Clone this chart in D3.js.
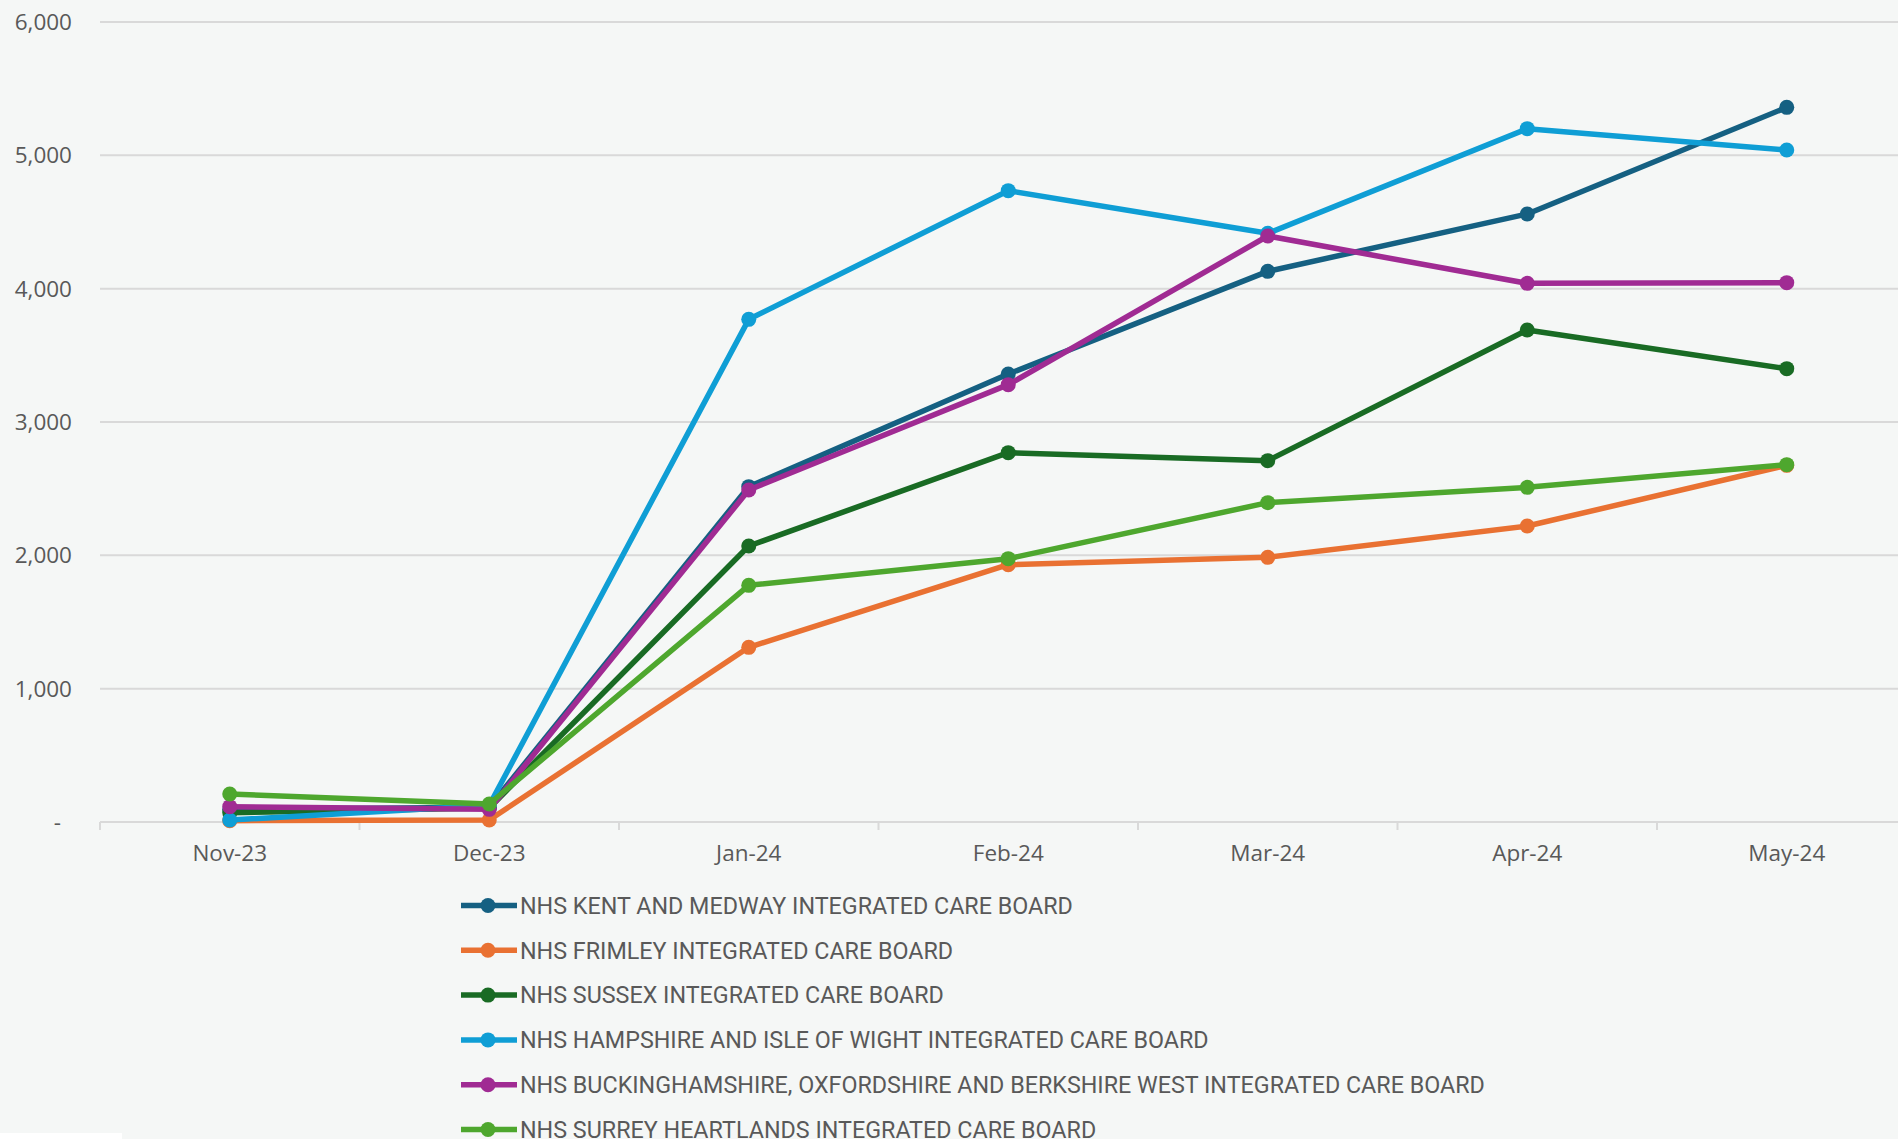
<!DOCTYPE html>
<html>
<head>
<meta charset="utf-8">
<script src="https://cdn.jsdelivr.net/npm/d3@7"></script>
<style>
  html, body { margin: 0; padding: 0; background: #f5f7f6; overflow: hidden; }
  svg { display: block; }
  .axis-label { font-family: "Open Sans", sans-serif; font-size: 22.5px; fill: #595959; }
  .legend-text { font-family: "Liberation Sans Narrow", "Roboto", sans-serif; font-size: 23.3px; fill: #595959; }
</style>
</head>
<body>
<svg id="chart" width="1898" height="1139"></svg>
<script>
// data
const months = ["Nov-23", "Dec-23", "Jan-24", "Feb-24", "Mar-24", "Apr-24", "May-24"];
const yTicks = [0, 1000, 2000, 3000, 4000, 5000, 6000];

const seriesNames = [
  "NHS KENT AND MEDWAY INTEGRATED CARE BOARD",
  "NHS FRIMLEY INTEGRATED CARE BOARD",
  "NHS SUSSEX INTEGRATED CARE BOARD",
  "NHS HAMPSHIRE AND ISLE OF WIGHT INTEGRATED CARE BOARD",
  "NHS BUCKINGHAMSHIRE, OXFORDSHIRE AND BERKSHIRE WEST INTEGRATED CARE BOARD",
  "NHS SURREY HEARTLANDS INTEGRATED CARE BOARD"
];
const kent      = [95, 110, 2515, 3360, 4130, 4560, 5360];
const frimley   = [10, 15, 1310, 1930, 1985, 2220, 2675];
const sussex    = [70, 105, 2070, 2770, 2710, 3690, 3400];
const hampshire = [15, 125, 3770, 4735, 4415, 5200, 5040];
const bucks     = [115, 95, 2490, 3280, 4395, 4040, 4045];
const surrey    = [210, 135, 1775, 1975, 2395, 2510, 2680];

const seriesValues = [kent, frimley, sussex, hampshire, bucks, surrey];
const colors = ["#156082", "#e97132", "#196b24", "#0f9ed5", "#a02b93", "#4ea72e"];

const plot = {left: 100, top: 22, bottom: 822, bandW: 259.5};

var svg = d3.select("#chart");

var x = d3.scaleBand()
  .domain(months)
  .range([plot.left, plot.left + plot.bandW * months.length]);

var y = d3.scaleLinear()
  .domain([0, 6000])
  .range([plot.bottom, plot.top]);

// gridlines
svg.append("g")
  .selectAll("line")
  .data(yTicks.filter(d => d > 0))
  .enter().append("line")
    .attr("x1", plot.left)
    .attr("x2", 1898)
    .attr("y1", d => y(d))
    .attr("y2", d => y(d))
    .attr("stroke", "#d9d9d9")
    .attr("stroke-width", 2);

// y labels
svg.append("g")
  .selectAll("text")
  .data(yTicks)
  .enter().append("text")
    .attr("class", "axis-label")
    .attr("x", d => d === 0 ? 61 : 72)
    .attr("y", d => y(d))
    .attr("dy", "0.35em")
    .attr("text-anchor", "end")
    .text(d => d === 0 ? "-" : d3.format(",")(d));

// x axis
var xAxis = svg.append("g")
  .attr("transform", `translate(0, ${plot.bottom})`)
  .call(d3.axisBottom(x).tickSize(0).tickPadding(23));
xAxis.select(".domain").remove();
xAxis.selectAll("text")
  .attr("class", "axis-label")
  .attr("font-family", null)
  .attr("font-size", null);

svg.append("line")
  .attr("x1", plot.left).attr("x2", 1898)
  .attr("y1", plot.bottom).attr("y2", plot.bottom)
  .attr("stroke", "#d9d9d9").attr("stroke-width", 2);

svg.append("g")
  .selectAll("line")
  .data(months)
  .enter().append("line")
    .attr("x1", d => x(d))
    .attr("x2", d => x(d))
    .attr("y1", plot.bottom)
    .attr("y2", plot.bottom + 8)
    .attr("stroke", "#d9d9d9")
    .attr("stroke-width", 2);

// lines + markers
var line = d3.line()
  .x((d, i) => x(months[i]) + x.bandwidth() / 2)
  .y(d => y(d));

var series = svg.append("g")
  .selectAll("g")
  .data(seriesValues)
  .enter().append("g");

series.append("path")
  .attr("fill", "none")
  .attr("stroke", (d, i) => colors[i])
  .attr("stroke-width", 5.5)
  .attr("stroke-linejoin", "round")
  .attr("d", d => line(d));

series.each(function(vals, si) {
  d3.select(this).selectAll("circle")
    .data(vals)
    .enter().append("circle")
      .attr("cx", (d, i) => x(months[i]) + x.bandwidth() / 2)
      .attr("cy", d => y(d))
      .attr("r", 7.5)
      .attr("fill", colors[si]);
});

// legend
var legend = svg.append("g")
  .selectAll("g")
  .data(seriesNames)
  .enter().append("g")
    .attr("transform", (d, i) => `translate(461, ${905.5 + i * 44.8})`);

legend.append("line")
  .attr("x1", 0).attr("x2", 56)
  .attr("stroke", (d, i) => colors[i])
  .attr("stroke-width", 5.5);
legend.append("circle")
  .attr("cx", 27).attr("r", 7.5)
  .attr("fill", (d, i) => colors[i]);
legend.append("text")
  .attr("class", "legend-text")
  .attr("x", 59)
  .attr("dy", "0.36em")
  .text(d => d);

// small white block bottom-left
svg.append("rect")
  .attr("x", 0).attr("y", 1133)
  .attr("width", 122).attr("height", 6)
  .attr("fill", "#ffffff");
</script>
</body>
</html>
